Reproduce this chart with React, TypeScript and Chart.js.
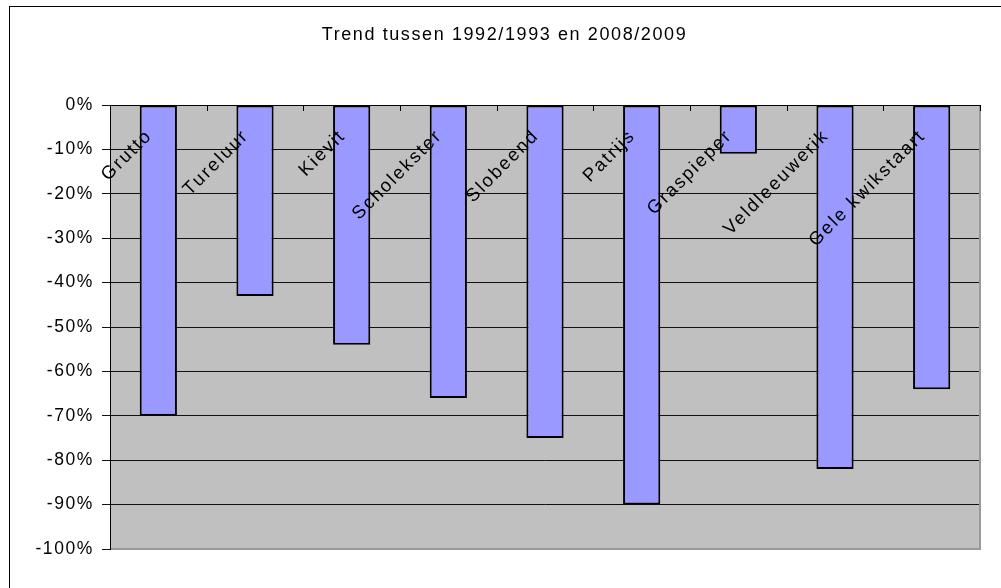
import React, { useEffect, useRef } from "react";
import { Chart, registerables } from "chart.js";

Chart.register(...registerables);

const chartTitle = "Trend tussen 1992/1993 en 2008/2009";
const categories = [
  "Grutto",
  "Tureluur",
  "Kievit",
  "Scholekster",
  "Slobeend",
  "Patrijs",
  "Graspieper",
  "Veldleeuwerik",
  "Gele kwikstaart",
];
const trendValues = [-70, -43, -54, -66, -75, -90, -11, -82, -64];
const yMin = -100;
const yMax = 0;
const yStep = 10;

const FONT = '"Liberation Sans", Arial, sans-serif';
const SPACING = "1.6px";
const TICK_SIZE = 17.5;
const TITLE_SIZE = 18;
const LABEL_SIZE = 18.5;
const LABEL_SPACING = "2px";

const spacingPlugin = {
  id: "spacing",
  beforeLayout(chart: any) {
    (chart.ctx as any).letterSpacing = SPACING;
  },
  beforeDraw(chart: any) {
    const ctx = chart.ctx as any;
    ctx.letterSpacing = SPACING;
    const { chartArea } = chart;
    ctx.save();
    ctx.fillStyle = "#ffffff";
    ctx.fillRect(0, 0, chart.width, chart.height);
    ctx.strokeStyle = "#000000";
    ctx.lineWidth = 1;
    ctx.strokeRect(9.5, 6.5, 3000, 3000);
    ctx.fillStyle = "#C0C0C0";
    ctx.fillRect(
      chartArea.left,
      chartArea.top,
      chartArea.right - chartArea.left,
      chartArea.bottom - chartArea.top
    );
    ctx.restore();
  },
  afterDatasetsDraw(chart: any) {
    const ctx = chart.ctx as any;
    const { chartArea } = chart;
    const xs = chart.scales.x;
    const ys = chart.scales.y;
    const half = (xs.getPixelForValue(1) - xs.getPixelForValue(0)) / 2;
    const y0 = ys.getPixelForValue(0);
    ctx.save();
    ctx.strokeStyle = "#9a9a9a";
    ctx.lineWidth = 2;
    ctx.beginPath();
    ctx.moveTo(chartArea.left + 1, chartArea.bottom);
    ctx.lineTo(chartArea.right, chartArea.bottom);
    ctx.lineTo(chartArea.right, chartArea.top + 1);
    ctx.stroke();
    ctx.strokeStyle = "#000000";
    ctx.lineWidth = 1;
    ctx.beginPath();
    ctx.moveTo(chartArea.left, Math.round(y0) + 0.5);
    ctx.lineTo(chartArea.right, Math.round(y0) + 0.5);
    for (let i = 0; i <= categories.length; i++) {
      const px = Math.round(xs.getPixelForValue(0) - half + i * 2 * half) + 0.5;
      ctx.moveTo(px, y0);
      ctx.lineTo(px, y0 + 6);
    }
    ctx.stroke();
    ctx.letterSpacing = LABEL_SPACING;
    ctx.font = `${LABEL_SIZE}px ${FONT}`;
    ctx.fillStyle = "#000000";
    ctx.textAlign = "right";
    ctx.textBaseline = "middle";
    categories.forEach((c, i) => {
      const px = xs.getPixelForValue(i);
      ctx.save();
      ctx.translate(px - 9, y0 + 28);
      ctx.rotate(-Math.PI / 4);
      ctx.fillText(c, 0, 0);
      ctx.restore();
    });
    ctx.restore();
  },
};

export default function App() {
  const ref = useRef<HTMLCanvasElement | null>(null);
  useEffect(() => {
    if (!ref.current) return;
    const chart = new Chart(ref.current, {
      type: "bar",
      data: {
        labels: categories,
        datasets: [
          {
            data: trendValues,
            backgroundColor: "#9999FF",
            borderColor: "#000000",
            borderWidth: 2,
            borderSkipped: false,
            categoryPercentage: 1,
            barPercentage: 0.385,
          },
        ],
      },
      options: {
        animation: false,
        responsive: false,
        devicePixelRatio: 1,
        layout: { padding: { left: 29, right: 21, top: 0, bottom: 39 } },
        plugins: {
          legend: { display: false },
          tooltip: { enabled: false },
          title: {
            display: true,
            text: chartTitle,
            color: "#000000",
            font: { family: FONT, size: TITLE_SIZE, weight: "normal", lineHeight: 1.2 },
            padding: { top: 24.2, bottom: 59.2 },
          },
        },
        scales: {
          x: {
            type: "category",
            display: false,
            offset: true,
            grid: { display: false },
          },
          y: {
            min: yMin,
            max: yMax,
            afterFit(scale: any) {
              scale.width = 81;
            },
            ticks: {
              stepSize: yStep,
              color: "#000000",
              font: { family: FONT, size: TICK_SIZE },
              padding: 8,
              callback: (v: any) => `${v}%`,
            },
            grid: {
              color: "#111111",
              lineWidth: 1,
              tickLength: 8,
              drawTicks: true,
            },
            border: { display: true, color: "#000000", width: 1 },
          },
        },
      },
      plugins: [spacingPlugin],
    });
    return () => chart.destroy();
  }, []);
  return (
    <div style={{ position: "absolute", left: 0, top: 0, width: 1001, height: 588 }}>
      <canvas ref={ref} width={1001} height={588} style={{ display: "block" }} />
    </div>
  );
}
